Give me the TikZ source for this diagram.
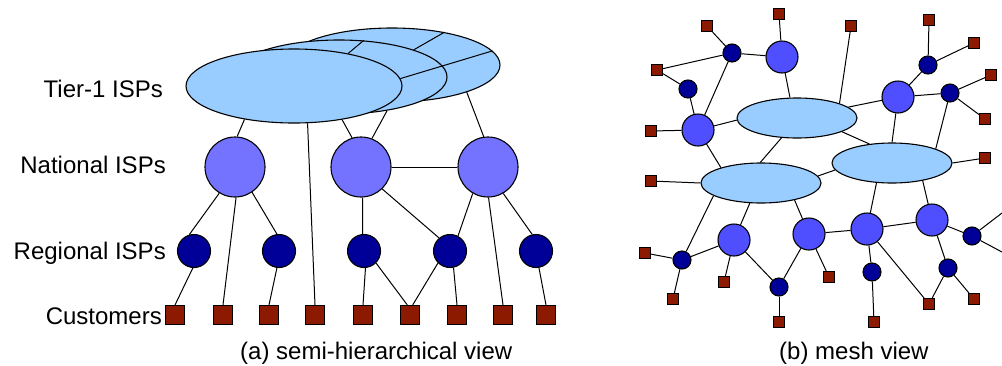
\documentclass[tikz,border=0pt]{standalone}
\usepackage{fontspec}
\setmainfont{Liberation Sans}
\usepackage{tikz}
\usetikzlibrary{shapes.geometric}
\definecolor{tierblue}{HTML}{99CCFF}
\definecolor{natblue}{HTML}{7373FF}
\definecolor{meshblue}{HTML}{4F4FFF}
\definecolor{regnavy}{HTML}{000099}
\definecolor{custred}{HTML}{8C1A00}

\begin{document}
\begin{tikzpicture}[x=1pt,y=-1pt,
    tier/.style={ellipse, draw, fill=tierblue, line width=1.1pt, inner sep=0pt, minimum width=216pt, minimum height=74pt},
    meshtier/.style={ellipse, draw, fill=tierblue, line width=1.1pt, inner sep=0pt, minimum width=120pt, minimum height=40pt},
    nat/.style={circle, draw, fill=natblue, line width=1.1pt, inner sep=0pt, minimum size=60pt},
    mnat/.style={circle, draw, fill=meshblue, line width=1.1pt, inner sep=0pt, minimum size=32pt},
    reg/.style={circle, draw, fill=regnavy, line width=1.1pt, inner sep=0pt, minimum size=33pt},
    mreg/.style={circle, draw, fill=regnavy, line width=1.1pt, inner sep=0pt, minimum size=18pt},
    cust/.style={rectangle, draw, fill=custred, line width=1.1pt, inner sep=0pt, minimum size=19pt},
    mcust/.style={rectangle, draw, fill=custred, line width=1.1pt, inner sep=0pt, minimum size=11pt},
    link/.style={line width=1pt},
    lbl/.style={anchor=base east, inner sep=0pt, font=\fontsize{24}{28}\selectfont},
    viewcap/.style={anchor=base west, inner sep=0pt, font=\fontsize{24}{28}\selectfont}]
  \useasboundingbox (0,0) rectangle (1002,365);

  % (a) semi-hierarchical view
  \node[tier] (tierC) at (392,65) {};
  \node[tier] (tierB) at (339,77) {};
  \node[tier] (tierA) at (294,86) {};
  \draw[link] (tierA.31) -- (tierB.56);
  \draw[link] (tierA.4) -- (tierC.8);
  \draw[link] (tierB.20) -- (tierC.32);

  \node[nat] (natA) at (235,167) {};
  \node[nat] (natB) at (361,167) {};
  \node[nat] (natC) at (488,167) {};

  \node[reg] (regA) at (194,251) {};
  \node[reg] (regB) at (279,251) {};
  \node[reg] (regC) at (364,251) {};
  \node[reg] (regD) at (450,251) {};
  \node[reg] (regE) at (536,251) {};

  \node[cust] (custA) at (175,315) {};
  \node[cust] (custB) at (223,315) {};
  \node[cust] (custC) at (269,315) {};
  \node[cust] (custD) at (315,315) {};
  \node[cust] (custE) at (363,315) {};
  \node[cust] (custF) at (410,315) {};
  \node[cust] (custG) at (457,315) {};
  \node[cust] (custH) at (503,315) {};
  \node[cust] (custI) at (546,315) {};

  \draw[link] (tierA.214) -- (natA.86);
  \draw[link] (tierA.325) -- (natB.107);
  \draw[link] (tierB.325) -- (natB.69);
  \draw[link] (tierC.340) -- (natC.98);
  \draw[link] (tierA.290) -- (custD.north);
  \draw[link] (natB.east) -- (natC.west);
  \draw[link] (natA.239) -- (regA.106);
  \draw[link] (natA.272) -- (custB.north);
  \draw[link] (natA.304) -- (regB.97);
  \draw[link] (natB.273) -- (regC.95);
  \draw[link] (natB.314) -- (regD.130);
  \draw[link] (natC.240) -- (regD.62);
  \draw[link] (natC.271) -- (custH.north);
  \draw[link] (natC.300) -- (regE.103);
  \draw[link] (regA.266) -- (custA.north);
  \draw[link] (regB.263) -- (custC.north);
  \draw[link] (regC.275) -- (custE.north);
  \draw[link] (regC.315) -- (custF.105);
  \draw[link] (regD.225) -- (custF.75);
  \draw[link] (regD.282) -- (custG.north);
  \draw[link] (regE.280) -- (custI.north);

  \node[lbl] (lblTier) at (163,97) {Tier-1 ISPs};
  \node[lbl] (lblNat) at (166,173) {National ISPs};
  \node[lbl] (lblReg) at (166,259) {Regional ISPs};
  \node[lbl] (lblCust) at (162,324) {Customers};
  \node[viewcap] (capA) at (240,359) {(a) semi-hierarchical view};

  % (b) mesh view
  \node[meshtier] (bigA) at (797,118) {};
  \node[meshtier] (bigB) at (892,163) {};
  \node[meshtier] (bigC) at (761,183) {};

  \node[mnat] (mnat1) at (782,57) {};
  \node[mnat] (mnat2) at (698,130) {};
  \node[mnat] (mnat3) at (898,97) {};
  \node[mnat] (mnat4) at (734,240) {};
  \node[mnat] (mnat5) at (809,234) {};
  \node[mnat] (mnat6) at (867,229) {};
  \node[mnat] (mnat7) at (932,220) {};

  \node[mreg] (mreg1) at (732,53) {};
  \node[mreg] (mreg2) at (688,89) {};
  \node[mreg] (mreg3) at (928,65) {};
  \node[mreg] (mreg4) at (950,93) {};
  \node[mreg] (mreg5) at (682,260) {};
  \node[mreg] (mreg6) at (779,287) {};
  \node[mreg] (mreg7) at (872,272) {};
  \node[mreg] (mreg8) at (948,268) {};
  \node[mreg] (mreg9) at (972,236) {};

  \node[mcust] (mcus1) at (707,26) {};
  \node[mcust] (mcus2) at (779,14) {};
  \node[mcust] (mcus3) at (851,26) {};
  \node[mcust] (mcus4) at (929,20) {};
  \node[mcust] (mcus5) at (974,43) {};
  \node[mcust] (mcus6) at (991,75) {};
  \node[mcust] (mcus7) at (985,119) {};
  \node[mcust] (mcus8) at (657,70) {};
  \node[mcust] (mcus9) at (651,131) {};
  \node[mcust] (mcus10) at (985,158) {};
  \node[mcust] (mcus11) at (651,181) {};
  \node[mcust] (mcus12) at (645,253) {};
  \node[mcust] (mcus13) at (673,299) {};
  \node[mcust] (mcus14) at (724,282) {};
  \node[mcust] (mcus15) at (829,277) {};
  \node[mcust] (mcus16) at (779,322) {};
  \node[mcust] (mcus17) at (874,322) {};
  \node[mcust] (mcus18) at (929,304) {};
  \node[mcust] (mcus19) at (974,299) {};
  \coordinate (edgeA) at (1002,213);
  \coordinate (edgeB) at (1002,252);

  \draw[link] (mcus1) -- (mreg1);
  \draw[link] (mcus8) -- (mreg1);
  \draw[link] (mcus8) -- (mreg2);
  \draw[link] (mreg1) -- (mnat1);
  \draw[link] (mreg1) -- (mnat2);
  \draw[link] (mreg2) -- (mnat2);
  \draw[link] (mcus2) -- (mnat1);
  \draw[link] (mnat1) -- (bigA.109);
  \draw[link] (mcus9) -- (mnat2);
  \draw[link] (mnat2) -- (bigA.182);
  \draw[link] (mcus3) -- (bigA.19);
  \draw[link] (bigA.12) -- (mnat3);
  \draw[link] (mnat3) -- (mreg3);
  \draw[link] (mcus4) -- (mreg3);
  \draw[link] (mcus5) -- (mreg3);
  \draw[link] (mnat3) -- (mreg4);
  \draw[link] (mcus6) -- (mreg4);
  \draw[link] (mcus7) -- (mreg4);
  \draw[link] (mnat3) -- (bigB.90);
  \draw[link] (mreg4) -- (bigB.18);
  \draw[link] (mcus10) -- (bigB.east);
  \draw[link] (bigA.343) -- (bigB.140);
  \draw[link] (bigA.232) -- (bigC.92);
  \draw[link] (mnat2) -- (bigC.159);
  \draw[link] (bigC.7) -- (bigB.187);
  \draw[link] (mcus11) -- (bigC.west);
  \draw[link] (bigC.195) -- (mreg5);
  \draw[link] (mcus12) -- (mreg5);
  \draw[link] (mreg5) -- (mnat4);
  \draw[link] (mreg5) -- (mcus13);
  \draw[link] (bigC.241) -- (mnat4);
  \draw[link] (mnat4) -- (mcus14);
  \draw[link] (mnat4) -- (mreg6);
  \draw[link] (bigC.333) -- (mnat5);
  \draw[link] (mnat5) -- (mreg6);
  \draw[link] (mnat5) -- (mcus15);
  \draw[link] (mnat5) -- (mnat6);
  \draw[link] (mreg6) -- (mcus16);
  \draw[link] (bigB.232) -- (mnat6);
  \draw[link] (mnat6) -- (mreg7);
  \draw[link] (mnat6) -- (mcus18);
  \draw[link] (mreg7) -- (mcus17);
  \draw[link] (mnat6) -- (mnat7);
  \draw[link] (bigB.330) -- (mnat7);
  \draw[link] (mnat7) -- (mreg8);
  \draw[link] (mreg8) -- (mcus18);
  \draw[link] (mreg8) -- (mcus19);
  \draw[link] (mnat7) -- (mreg9);
  \draw[link] (mreg9) -- (edgeA);
  \draw[link] (mreg9) -- (edgeB);

  \node[viewcap] (capB) at (779,359) {(b) mesh view};
\end{tikzpicture}
\end{document}
